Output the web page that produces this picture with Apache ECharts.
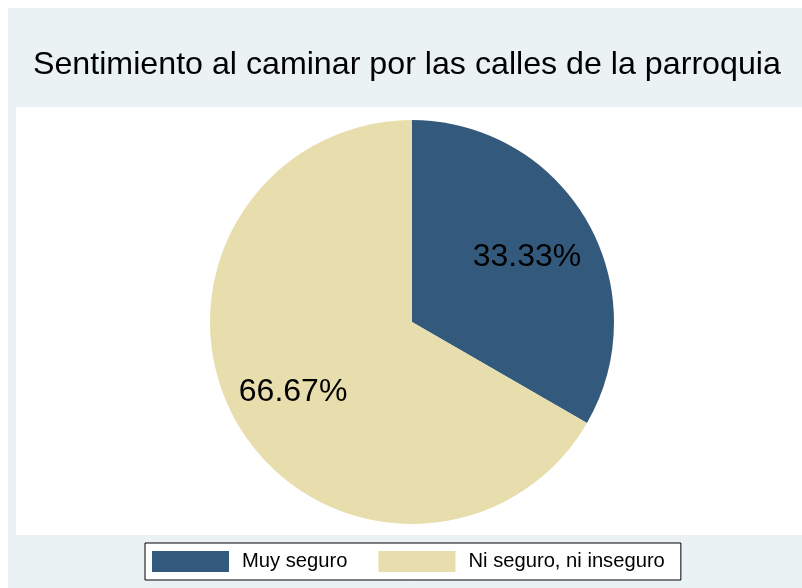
<!DOCTYPE html>
<html>
<head>
<meta charset="utf-8">
<script src="https://cdn.jsdelivr.net/npm/echarts@6/dist/echarts.min.js"></script>
<style>
  html, body { margin: 0; padding: 0; background: #fff; }
  #chart { width: 802px; height: 588px; }
</style>
</head>
<body>
<div id="chart"></div>
<script>
// datos del gráfico
var categorias = ['Muy seguro', 'Ni seguro, ni inseguro'];
var porcentajes = [33.33, 66.67];
var colores = ['#335A7D', '#E8DDAC'];

var fuente = '"Liberation Sans", Arial, Helvetica, sans-serif';

var datos = categorias.map(function (c, i) {
  return { name: c, value: porcentajes[i], itemStyle: { color: colores[i] } };
});

var myChart = echarts.init(document.getElementById('chart'));
myChart.setOption({
  backgroundColor: '#ffffff',
  animation: false,
  graphic: [
    // fondo del gráfico y región del pastel
    { type: 'rect', z: -10, shape: { x: 8, y: 8, width: 794, height: 580 }, style: { fill: '#EAF2F3' } },
    { type: 'rect', z: -9, shape: { x: 16, y: 107, width: 786, height: 428 }, style: { fill: '#ffffff' } }
  ],
  title: {
    text: 'Sentimiento al caminar por las calles de la parroquia',
    left: 28,
    top: 44,
    padding: 5,
    textStyle: { fontFamily: fuente, fontSize: 32.2, fontWeight: 'normal', color: '#000' }
  },
  legend: {
    data: categorias,
    left: 145,
    top: 543,
    padding: [8, 16, 8, 7],
    backgroundColor: '#fff',
    borderColor: '#000',
    borderWidth: 1,
    borderRadius: 0,
    icon: 'rect',
    itemWidth: 77,
    itemHeight: 21,
    itemGap: 31,
    selectedMode: false,
    textStyle: { fontFamily: fuente, fontSize: 20.2, color: '#000', padding: [0, 0, 0, 8] }
  },
  series: [
    {
      type: 'pie',
      center: [412, 322],
      radius: [0, 202],
      startAngle: 90,
      clockwise: true,
      silent: true,
      label: { show: false },
      labelLine: { show: false },
      itemStyle: { borderWidth: 0 },
      data: datos
    },
    {
      // serie invisible solo para colocar las etiquetas de porcentaje
      type: 'pie',
      center: [412, 322],
      radius: [62, 202],
      startAngle: 90,
      clockwise: true,
      silent: true,
      itemStyle: { color: 'rgba(0,0,0,0)', borderWidth: 0 },
      label: {
        show: true,
        position: 'inside',
        formatter: '{c}%',
        fontFamily: fuente,
        fontSize: 32,
        color: '#000',
        offset: [-2, 3]
      },
      labelLine: { show: false },
      data: categorias.map(function (c, i) { return { name: c, value: porcentajes[i] }; })
    }
  ]
});
</script>
</body>
</html>
